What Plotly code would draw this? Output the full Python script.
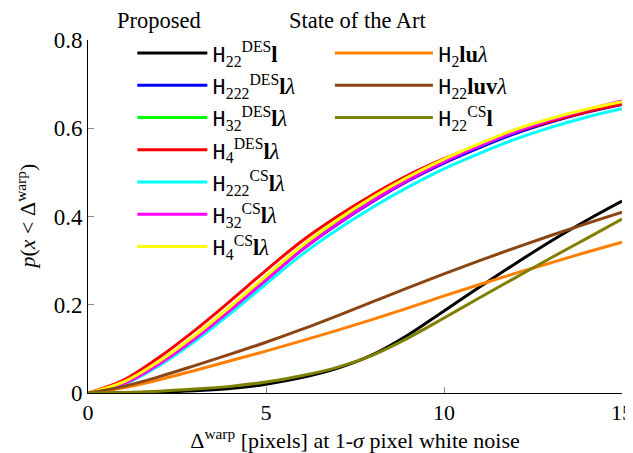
import plotly.graph_objects as go

x = list(range(0, 16))

# Proposed
h22_des_l = [0, 0.0005, 0.002, 0.005, 0.01, 0.02, 0.035, 0.056, 0.087, 0.132, 0.186, 0.24, 0.293, 0.344, 0.391, 0.435]
h222_des_llam = [0, 0.021, 0.066, 0.123, 0.188, 0.256, 0.324, 0.382, 0.434, 0.481, 0.521, 0.556, 0.588, 0.614, 0.636, 0.654]
h32_des_llam = [0, 0.023, 0.069, 0.127, 0.192, 0.261, 0.329, 0.387, 0.439, 0.486, 0.526, 0.560, 0.592, 0.617, 0.639, 0.656]
h4_des_llam = [0, 0.029, 0.081, 0.142, 0.209, 0.278, 0.344, 0.400, 0.450, 0.494, 0.531, 0.563, 0.592, 0.616, 0.637, 0.655]
h222_cs_llam = [0, 0.019, 0.062, 0.117, 0.180, 0.247, 0.313, 0.370, 0.421, 0.467, 0.508, 0.543, 0.575, 0.602, 0.625, 0.644]
h32_cs_llam = [0, 0.021, 0.066, 0.123, 0.188, 0.256, 0.324, 0.383, 0.436, 0.483, 0.524, 0.560, 0.592, 0.619, 0.642, 0.662]
h4_cs_llam = [0, 0.025, 0.072, 0.130, 0.196, 0.265, 0.333, 0.392, 0.444, 0.490, 0.530, 0.565, 0.597, 0.622, 0.643, 0.660]

# State of the Art
h2_lu_lam = [0, 0.012, 0.03, 0.051, 0.073, 0.095, 0.118, 0.142, 0.167, 0.193, 0.22, 0.246, 0.271, 0.295, 0.319, 0.342]
h22_luv_lam = [0, 0.015, 0.037, 0.062, 0.088, 0.115, 0.144, 0.175, 0.207, 0.239, 0.27, 0.3, 0.329, 0.357, 0.384, 0.41]
h22_cs_l = [0, 0.001, 0.004, 0.009, 0.015, 0.025, 0.039, 0.058, 0.086, 0.125, 0.17, 0.216, 0.261, 0.306, 0.35, 0.394]

x_ticks = [0, 5, 10, 15]
y_ticks = [0, 0.2, 0.4, 0.6, 0.8]
y_tick_labels = ["0", "0.2", "0.4", "0.6", "0.8"]

TT = "<span style='font-family:Liberation Mono'>H</span>"
LAM = "<i>λ</i>"

proposed = [
    (h22_des_l, TT + "<sub>22</sub><sup>DES</sup><b>l</b>", "#000000"),
    (h222_des_llam, TT + "<sub>222</sub><sup>DES</sup><b>l</b>" + LAM, "#0000ff"),
    (h32_des_llam, TT + "<sub>32</sub><sup>DES</sup><b>l</b>" + LAM, "#00ff00"),
    (h4_des_llam, TT + "<sub>4</sub><sup>DES</sup><b>l</b>" + LAM, "#ff0000"),
    (h222_cs_llam, TT + "<sub>222</sub><sup>CS</sup><b>l</b>" + LAM, "#00ffff"),
    (h32_cs_llam, TT + "<sub>32</sub><sup>CS</sup><b>l</b>" + LAM, "#ff00ff"),
    (h4_cs_llam, TT + "<sub>4</sub><sup>CS</sup><b>l</b>" + LAM, "#ffff00"),
]
state_of_art = [
    (h2_lu_lam, TT + "<sub>2</sub><b>lu</b>" + LAM, "#ff8000"),
    (h22_luv_lam, TT + "<sub>22</sub><b>luv</b>" + LAM, "#8b4513"),
    (h22_cs_l, TT + "<sub>22</sub><sup>CS</sup><b>l</b>", "#808000"),
]

SERIF = "Liberation Serif"

fig = go.Figure()
for vals, name, col in proposed:
    fig.add_trace(go.Scatter(x=x, y=vals, mode="lines", name=name,
                             line=dict(color=col, width=3, shape="spline", smoothing=1.0),
                             legend="legend"))
for vals, name, col in state_of_art:
    fig.add_trace(go.Scatter(x=x, y=vals, mode="lines", name=name,
                             line=dict(color=col, width=3, shape="spline", smoothing=1.0),
                             legend="legend2"))

# page body has an 8px margin, so the figure is 8px smaller than the window
fig.update_layout(
    width=625, height=445,
    margin=dict(l=80, r=11, t=32, b=60, autoexpand=False),
    paper_bgcolor="white", plot_bgcolor="white",
    font=dict(family=SERIF, size=22, color="black"),
    showlegend=True,
    legend=dict(x=0.083, y=1.023, xanchor="left", yanchor="top", maxheight=400,
                bgcolor="rgba(0,0,0,0)", itemwidth=70,
                font=dict(family=SERIF, size=22.5), traceorder="normal"),
    legend2=dict(x=0.453, y=1.023, xanchor="left", yanchor="top", maxheight=400,
                 bgcolor="rgba(0,0,0,0)", itemwidth=98,
                 font=dict(family=SERIF, size=22.5), traceorder="normal"),
    xaxis=dict(range=[0, 15], tickvals=x_ticks, ticktext=[str(v) for v in x_ticks],
               ticks="inside", ticklen=6, tickcolor="#888888", automargin=False,
               ticklabeloverflow="allow",
               showline=True, linecolor="black", linewidth=1, showgrid=False, zeroline=False,
               tickfont=dict(family=SERIF, size=22),
               title=dict(text="Δ<sup>warp</sup> [pixels] at 1-<i>σ</i> pixel white noise",
                          font=dict(family=SERIF, size=22), standoff=8)),
    yaxis=dict(range=[0, 0.8], tickvals=y_ticks, ticktext=y_tick_labels,
               ticks="inside", ticklen=6, tickcolor="#888888", automargin=False,
               ticklabeloverflow="allow",
               showline=True, linecolor="black", linewidth=1, showgrid=False, zeroline=False,
               tickfont=dict(family=SERIF, size=23)),
    annotations=[
        dict(text="Proposed", xref="paper", yref="paper", x=(115 - 88) / 534, y=(393 - 20) / 353,
             xanchor="left", yanchor="middle", showarrow=False, font=dict(family=SERIF, size=22.5)),
        dict(text="State of the Art", xref="paper", yref="paper", x=(287 - 88) / 534, y=(393 - 20) / 353,
             xanchor="left", yanchor="middle", showarrow=False, font=dict(family=SERIF, size=22.5)),
        dict(text="<i>p</i>(<i>x</i> &lt; Δ<sup>warp</sup>)", textangle=-90,
             xref="paper", yref="paper", x=(25 - 88) / 534, y=0.5,
             xanchor="center", yanchor="middle", showarrow=False, font=dict(family=SERIF, size=22)),
    ],
)

fig.write_html("out.html")
